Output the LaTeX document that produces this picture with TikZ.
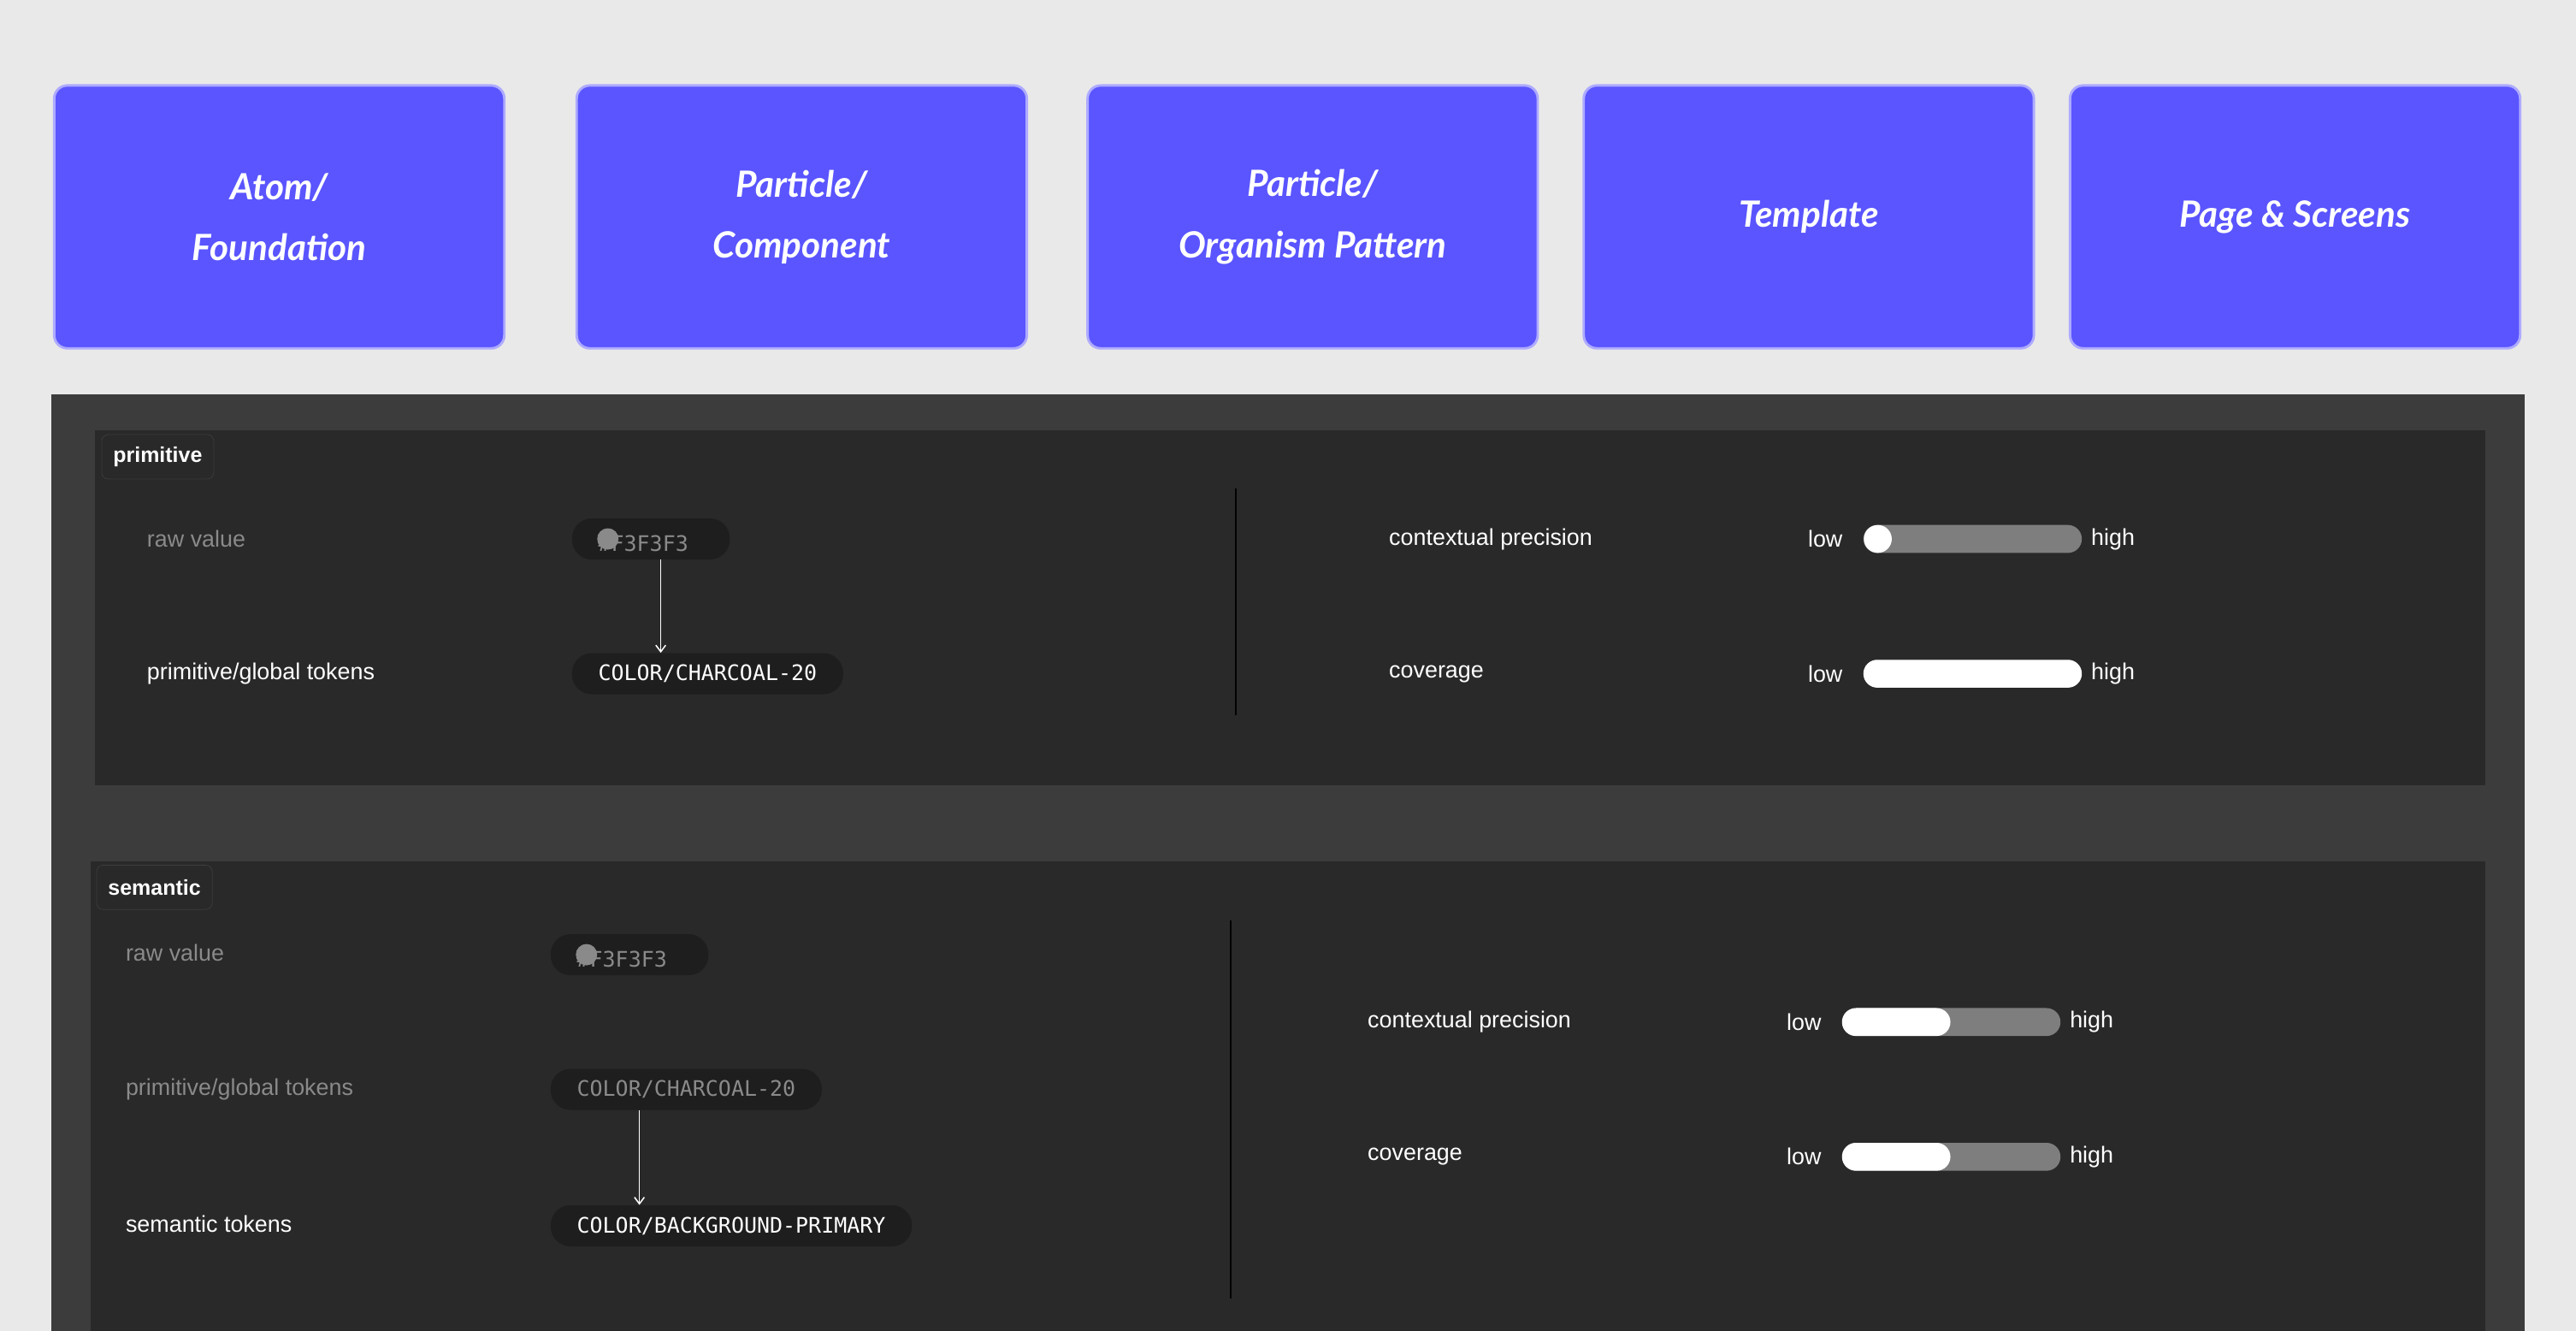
\documentclass[tikz,border=0pt]{standalone}
\usepackage{fontspec}
\setmainfont{Liberation Sans}
\newfontfamily\boxfont{Lato}
\newfontfamily\chipfont{DejaVu Sans Mono}
\usetikzlibrary{positioning,arrows.meta}
\definecolor{canvas}{HTML}{E9E9E9}
\definecolor{boxblue}{HTML}{5A55FF}
\definecolor{boxrim}{HTML}{AEABFF}
\definecolor{frame}{HTML}{3C3C3C}
\definecolor{panel}{HTML}{292929}
\definecolor{chipbg}{HTML}{1E1E1E}
\definecolor{dimtext}{HTML}{8A8A8A}
\definecolor{track}{HTML}{7E7E7E}
\begin{document}
\begin{tikzpicture}[x=1pt,y=-1pt,
level/.style ={fill=boxblue, draw=boxrim, line width=1.5pt, rounded corners=8pt,
minimum width=274pt, minimum height=160pt, text=white, align=center,
font=\boxfont\bfseries\itshape\fontsize{22}{37}\selectfont},
tag/.style ={draw=frame, fill=panel, rounded corners=4pt, text=white,
font=\bfseries\fontsize{13}{15}\selectfont, minimum height=27pt, inner xsep=7pt},
label/.style ={anchor=west, text=white, font=\fontsize{14}{16}\selectfont},
dimlabel/.style ={label, text=dimtext},
chip/.style ={anchor=west, fill=chipbg, rounded corners=12pt, minimum height=25pt,
inner xsep=16pt, text=white, font=\chipfont\fontsize{13}{15}\selectfont},
dimchip/.style ={chip, text=dimtext},
bar/.style ={anchor=west, fill=track, rounded corners=8.5pt, minimum width=133pt,
minimum height=17pt, inner sep=0pt},
fillbar/.style ={anchor=west, fill=white, rounded corners=8.5pt, minimum height=17pt, inner sep=0pt},
knob/.style ={circle, fill=white, minimum size=17pt, inner sep=0pt},
link/.style ={-{Straight Barb[length=4pt,width=6pt]}, white, line width=0.8pt}]
\useasboundingbox (0,0) rectangle (1568,810);
\fill[canvas] (0,0) rectangle (1568,810);

% levels
\node[level] (atom) at (170,132) {Atom/\\Foundation};
\node[level] (comp) at (488,132) {Particle/\\Component};
\node[level] (org) at (799,132) {Particle/\\Organism Pattern};
\node[level] (tmpl) at (1101,132) {Template};
\node[level] (page) at (1397,132) {Page \& Screens};

% token panels
\fill[frame] (31,240) rectangle (1537,810);
\fill[panel] (58,262) rectangle (1513,478);
\fill[panel] (55,524) rectangle (1513,810);

% primitive
\node[tag] (ptag) at (96,278) {primitive};
\node[dimlabel] (praw) at (86,328) {raw value};
\node[label] (pglob) at (86,410) {primitive/global tokens};
\node[dimchip, text width=64pt] (pc1) at (348,328) {\hspace{13pt}\#F3F3F3};
\fill[dimtext] ([xshift=22pt]pc1.west) circle (6.5pt);
\node[chip] (pc2) at (348,410) {COLOR/CHARCOAL-20};
\draw[link] ([xshift=6pt]pc1.south) -- ([xshift=6pt]pc1.south |- pc2.north);
\draw[frame!130, line width=1pt] (752,297) -- (752,435);
\node[label] (pprec) at (842,328) {contextual precision};
\node[label] (pcov) at (842,410) {coverage};
\node[label] (plo1) at (1097,328) {low};
\node[bar] (pb1) at (1134,328) {};
\node[knob] at ([xshift=9pt]pb1.west) {};
\node[label, right=2pt of pb1] {high};
\node[label] (plo2) at (1097,410) {low};
\node[bar, fill=white] (pb2) at (1134,410) {};
\node[label, right=2pt of pb2] {high};

% semantic
\node[tag] (stag) at (94,540) {semantic};
\node[dimlabel] (sraw) at (73,580) {raw value};
\node[dimlabel] (sglob) at (73,663) {primitive/global tokens};
\node[label] (ssem) at (73,745) {semantic tokens};
\node[dimchip, text width=64pt] (sc1) at (335,581) {\hspace{13pt}\#F3F3F3};
\fill[dimtext] ([xshift=22pt]sc1.west) circle (6.5pt);
\node[dimchip] (sc2) at (335,663) {COLOR/CHARCOAL-20};
\node[chip] (sc3) at (335,746) {COLOR/BACKGROUND-PRIMARY};
\draw[link] ([xshift=6pt]sc1.south |- sc2.south) -- ([xshift=6pt]sc1.south |- sc3.north);
\draw[frame!130, line width=1pt] (749,560) -- (749,790);
\node[label] (sprec) at (829,622) {contextual precision};
\node[label] (scov) at (829,704) {coverage};
\node[label] (slo1) at (1084,622) {low};
\node[bar] (sb1) at (1121,622) {};
\node[fillbar, minimum width=66pt] at (sb1.west) {};
\node[label, right=2pt of sb1] {high};
\node[label] (slo2) at (1084,704) {low};
\node[bar] (sb2) at (1121,704) {};
\node[fillbar, minimum width=66pt] at (sb2.west) {};
\node[label, right=2pt of sb2] {high};
\end{tikzpicture}
\end{document}
